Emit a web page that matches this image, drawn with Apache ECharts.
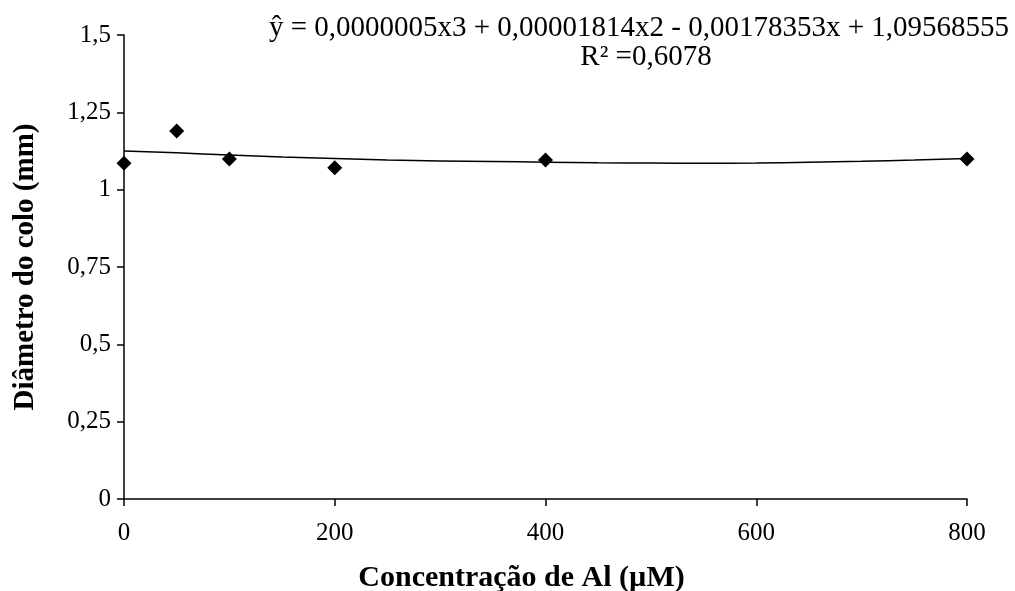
<!DOCTYPE html>
<html>
<head>
<meta charset="utf-8">
<script src="https://cdn.jsdelivr.net/npm/echarts@6/dist/echarts.min.js"></script>
<style>
html, body { margin: 0; padding: 0; background: #fff; }
#main { width: 1015px; height: 591px; }
</style>
</head>
<body>
<div id="main"></div>
<script>
// pontos observados
var concAl = [0, 50, 100, 200, 400, 800];
var diametro = [1.085, 1.190, 1.099, 1.071, 1.096, 1.099];

// linha de tendência
var trendX = [0, 50, 100, 150, 200, 250, 300, 350, 400, 450, 500, 550, 600, 650, 700, 750, 800];
var trendY = [1.125, 1.119, 1.112, 1.106, 1.101, 1.096, 1.093, 1.091, 1.089, 1.087, 1.086, 1.085, 1.086, 1.089, 1.092, 1.096, 1.101];

var equacao = 'ŷ = 0,0000005x3 + 0,00001814x2 - 0,00178353x + 1,09568555';
var r2 = 'R² =0,6078';

var fonte = 'Liberation Serif, Times New Roman, serif';

var chart = echarts.init(document.getElementById('main'));

var pontos = [];
for (var i = 0; i < concAl.length; i++) {
    pontos.push([concAl[i], diametro[i]]);
}
var linha = [];
for (var j = 0; j < trendX.length; j++) {
    linha.push([trendX[j], trendY[j]]);
}

var option = {
    backgroundColor: '#fff',
    animation: false,
    title: [
        {
            text: equacao,
            left: 634,
            top: 9,
            textAlign: 'center',
            textStyle: { fontFamily: fonte, fontSize: 29, fontWeight: 'normal', color: '#000' }
        },
        {
            text: r2,
            left: 641,
            top: 38,
            textAlign: 'center',
            textStyle: { fontFamily: fonte, fontSize: 29, fontWeight: 'normal', color: '#000' }
        }
    ],
    grid: {
        left: 124,
        right: 48,
        top: 35,
        bottom: 92,
        outerBoundsMode: 'none'
    },
    xAxis: {
        type: 'value',
        min: 0,
        max: 800,
        interval: 200,
        name: 'Concentração de Al (µM)',
        nameLocation: 'middle',
        nameGap: 64,
        nameTextStyle: {
            fontFamily: fonte, fontSize: 30, fontWeight: 'bold', color: '#000',
            padding: [0, 48, 0, 0]
        },
        splitLine: { show: false },
        axisLine: { lineStyle: { color: '#000', width: 1.5 } },
        axisTick: { inside: false, length: 7, lineStyle: { color: '#000', width: 1.5 } },
        axisLabel: { fontFamily: fonte, fontSize: 25, color: '#000', margin: 22 }
    },
    yAxis: {
        type: 'value',
        min: 0,
        max: 1.5,
        interval: 0.25,
        name: 'Diâmetro do colo (mm)',
        nameLocation: 'middle',
        nameGap: 84,
        nameTextStyle: { fontFamily: fonte, fontSize: 29, fontWeight: 'bold', color: '#000' },
        splitLine: { show: false },
        axisLine: { show: true, lineStyle: { color: '#000', width: 1.5 } },
        axisTick: { show: true, inside: false, length: 7, lineStyle: { color: '#000', width: 1.5 } },
        axisLabel: {
            fontFamily: fonte, fontSize: 25, color: '#000', margin: 13,
            formatter: function (v) {
                return String(v).replace('.', ',');
            }
        }
    },
    series: [
        {
            name: 'Tendência',
            type: 'line',
            data: linha,
            smooth: true,
            symbol: 'none',
            lineStyle: { color: '#000', width: 1.5 },
            z: 2
        },
        {
            name: 'Diâmetro',
            type: 'scatter',
            data: pontos,
            symbol: 'diamond',
            symbolSize: 15,
            itemStyle: { color: '#000', opacity: 1 },
            z: 3
        }
    ]
};

chart.setOption(option);
</script>
</body>
</html>
